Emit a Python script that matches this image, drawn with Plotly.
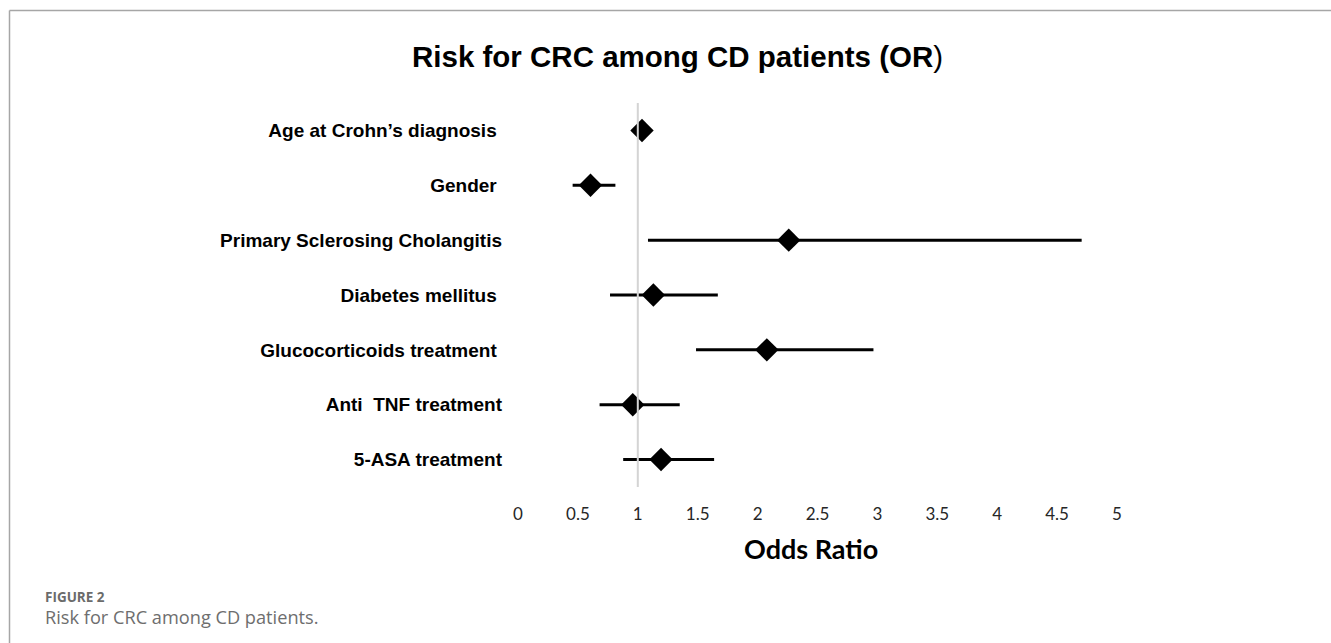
import plotly.graph_objects as go

# ---- data ----
categories = [
    "Age at Crohn\u2019s diagnosis\u00a0",
    "Gender\u00a0",
    "Primary Sclerosing Cholangitis",
    "Diabetes mellitus\u00a0",
    "Glucocorticoids treatment\u00a0",
    "Anti\u00a0 TNF treatment",
    "5-ASA treatment",
]
odds_ratio = [1.035, 0.605, 2.26, 1.13, 2.077, 0.958, 1.194]
ci_low = [1.02, 0.456, 1.085, 0.768, 1.486, 0.681, 0.878]
ci_high = [1.05, 0.813, 4.705, 1.668, 2.967, 1.35, 1.637]
x_ticks = [0, 0.5, 1, 1.5, 2, 2.5, 3, 3.5, 4, 4.5, 5]
x_tick_labels = ["0", "0.5", "1", "1.5", "2", "2.5", "3", "3.5", "4", "4.5", "5"]
reference_or = 1

W, H = 1331, 643
L, R, T, B = 518, 1117, 103, 487  # plot area in pixels


def px_x(p):
    return (p - L) / (R - L)


def px_y(p):
    return (B - p) / (B - T)


err_plus = [h - v for h, v in zip(ci_high, odds_ratio)]
err_minus = [v - l for v, l in zip(odds_ratio, ci_low)]

fig = go.Figure()
fig.add_trace(go.Scatter(
    x=odds_ratio,
    y=categories,
    mode="markers",
    marker=dict(symbol="diamond", size=18, color="black", line=dict(width=0)),
    error_x=dict(type="data", symmetric=False, array=err_plus, arrayminus=err_minus,
                 color="black", thickness=3, width=0),
    showlegend=False,
    hoverinfo="x+y",
))

shapes = [
    # reference line at OR = 1
    dict(type="line", xref="x", yref="paper", x0=reference_or, x1=reference_or, y0=0, y1=1,
         line=dict(color="#d4d4d4", width=2), layer="above"),
    # figure frame (top and left)
    dict(type="line", xref="paper", yref="paper", x0=px_x(9.5), x1=px_x(1331), y0=px_y(10.5), y1=px_y(10.5),
         line=dict(color="#a6a6a6", width=1.5)),
    dict(type="line", xref="paper", yref="paper", x0=px_x(9.5), x1=px_x(9.5), y0=px_y(10.5), y1=px_y(643),
         line=dict(color="#a6a6a6", width=1.5)),
]

annotations = [
    dict(text="<b>Risk for CRC among CD patients (OR</b>)", xref="paper", yref="paper",
         x=px_x(677), y=px_y(57), xanchor="center", yanchor="middle", showarrow=False,
         font=dict(family="Liberation Sans, Arial", size=29.5, color="black")),
    dict(text="<b>Odds Ratio</b>", xref="paper", yref="paper",
         x=px_x(811), y=px_y(548), xanchor="center", yanchor="middle", showarrow=False,
         font=dict(family="Lato, Open Sans", size=27, color="black")),
    dict(text="<b>FIGURE 2</b>", xref="paper", yref="paper",
         x=px_x(43), y=px_y(597), xanchor="left", yanchor="middle", showarrow=False,
         font=dict(family="Open Sans", size=13.5, color="#6b6b6b")),
    dict(text="Risk for CRC among CD patients.", xref="paper", yref="paper",
         x=px_x(43), y=px_y(617), xanchor="left", yanchor="middle", showarrow=False,
         font=dict(family="Open Sans", size=18.2, color="#6e6e6e")),
]

fig.update_layout(
    width=W, height=H,
    margin=dict(l=L, r=W - R, t=T, b=H - B, pad=0),
    paper_bgcolor="white", plot_bgcolor="white",
    shapes=shapes, annotations=annotations,
    xaxis=dict(range=[0, 5], tickvals=x_ticks, ticktext=x_tick_labels,
               showgrid=False, zeroline=False, showline=False, ticks="",
               ticklabelstandoff=15,
               tickfont=dict(family="Lato, Open Sans", size=17, color="#262626")),
    yaxis=dict(type="category", categoryorder="array", categoryarray=categories,
               range=[6.5, -0.5], showgrid=False, zeroline=False, showline=False, ticks="",
               ticklabelstandoff=15,
               tickfont=dict(family="Liberation Sans, Arial", size=19, color="black",
                             weight="bold")),
)

fig.write_html("out.html", config={"displayModeBar": False},
               post_script="document.body.style.margin='0';")
